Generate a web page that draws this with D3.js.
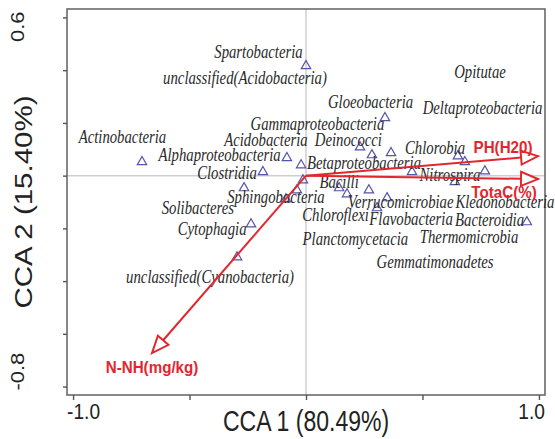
<!DOCTYPE html>
<html>
<head>
<meta charset="utf-8">
<script src="https://cdn.jsdelivr.net/npm/d3@7"></script>
<style>
  body { margin: 0; background: #fff; }
  svg { display: block; }
</style>
</head>
<body>
<div id="chart"></div>
<script>
// species scores (triangles)
const speciesPoints = [
  [0.000, 0.416], [0.339, 0.219], [-0.704, 0.052], [-0.082, 0.067], [-0.021, 0.040],
  [-0.185, 0.014], [-0.266, -0.047], [-0.013, -0.017], [-0.039, -0.055], [-0.086, -0.089],
  [-0.236, -0.184], [-0.296, -0.309], [0.232, 0.108], [0.283, 0.078], [0.365, 0.086],
  [0.142, -0.047], [0.176, -0.070], [0.270, -0.055], [0.348, -0.085], [0.305, -0.123],
  [0.455, 0.014], [0.652, 0.074], [0.682, 0.052], [0.768, 0.017], [0.639, -0.024],
  [0.948, -0.176]
];

// species names and where each name sits (centre, in CCA units)
const speciesLabels = [
  'Spartobacteria', 'unclassified(Acidobacteria)', 'Opitutae', 'Gloeobacteria',
  'Deltaproteobacteria', 'Gammaproteobacteria', 'Actinobacteria', 'Acidobacteria',
  'Deinococci', 'Alphaproteobacteria', 'Chlorobia', 'Betaproteobacteria', 'Clostridia',
  'Nitrospira', 'Bacilli', 'Sphingobacteria', 'Solibacteres', 'Verrucomicrobiae',
  'Kledonobacteria', 'Chloroflexi', 'Flavobacteria', 'Bacteroidia', 'Cytophagia',
  'Planctomycetacia', 'Thermomicrobia', 'Gemmatimonadetes', 'unclassified(Cyanobacteria)'
];
const labelPositions = [
  [-0.204, 0.469], [-0.262, 0.370], [0.747, 0.393], [0.277, 0.279],
  [0.758, 0.256], [0.049, 0.196], [-0.788, 0.146], [-0.172, 0.135],
  [0.182, 0.135], [-0.371, 0.078], [0.554, 0.105], [0.249, 0.048], [-0.339, 0.010],
  [0.618, 0.002], [0.142, -0.024], [-0.129, -0.081], [-0.464, -0.123], [0.406, -0.100],
  [0.854, -0.100], [0.127, -0.149], [0.451, -0.165], [0.788, -0.168], [-0.403, -0.202],
  [0.212, -0.241], [0.700, -0.233], [0.554, -0.328], [-0.412, -0.385]
];

// environmental vectors
const envNames = ['PH(H20)', 'TotaC(%)', 'N-NH(mg/kg)'];
const envVectors = [[0.996, 0.074], [0.996, -0.013], [-0.661, -0.673]];

const xTicks = [-1, -0.5, 0, 0.5, 1];
const yTicks = [0.6, 0.4, 0.2, 0, -0.2, -0.4, -0.6, -0.8];
const xTitle = 'CCA 1 (80.49%)';
const yTitle = 'CCA 2 (15.40%)';

const W = 555, H = 439;
const frame = { left: 67, right: 545, top: 9, bottom: 395 };
const red = '#e3262e';
const triColor = '#5454a8';

const svg = d3.select('#chart').append('svg')
  .attr('width', W)
  .attr('height', H);

const x = d3.scaleLinear().domain([-1.026, 1.026]).range([frame.left, frame.right]);
const y = d3.scaleLinear().domain([-0.832, 0.632]).range([frame.bottom, frame.top]);

// the figure is squeezed sideways, so text gets a horizontal scale (sx)
const addText = (g, str, px, py, o) => {
  const t = g.append('text')
    .attr('transform', `translate(${px},${py}) scale(${o.sx},1)` + (o.rotate ? ' rotate(-90)' : ''))
    .attr('text-anchor', o.anchor || 'middle')
    .attr('dy', o.dy != null ? o.dy : '0.35em')
    .style('font-family', o.family)
    .style('font-size', o.size + 'px')
    .style('fill', o.color)
    .text(str);
  if (o.italic) t.style('font-style', 'italic');
  if (o.bold) t.style('font-weight', 'bold');
  return t;
};

// gridlines through the origin
svg.append('line')
  .attr('x1', x(0)).attr('x2', x(0))
  .attr('y1', frame.top).attr('y2', frame.bottom)
  .attr('stroke', '#cfcfcf').attr('stroke-width', 1.5);
svg.append('line')
  .attr('x1', frame.left).attr('x2', frame.right)
  .attr('y1', y(0)).attr('y2', y(0))
  .attr('stroke', '#cfcfcf').attr('stroke-width', 1.5);

// frame
svg.append('rect')
  .attr('x', frame.left).attr('y', frame.top)
  .attr('width', frame.right - frame.left)
  .attr('height', frame.bottom - frame.top)
  .attr('fill', 'none')
  .attr('stroke', '#6a6a6a')
  .attr('stroke-width', 1.6);

// ticks
const xAxis = svg.append('g')
  .attr('transform', 'translate(0,' + frame.bottom + ')')
  .call(d3.axisBottom(x).tickValues(xTicks).tickSize(5).tickFormat(''));
const yAxis = svg.append('g')
  .attr('transform', 'translate(' + frame.left + ',0)')
  .call(d3.axisLeft(y).tickValues(yTicks).tickSize(4).tickFormat(''));
[xAxis, yAxis].forEach(a => {
  a.select('.domain').remove();
  a.selectAll('line').attr('stroke', '#555').attr('stroke-width', 1.4);
});

// end tick labels, tucked inside the frame ends like the original
const tickFont = { family: 'Liberation Sans, Arial, sans-serif', size: 22, sx: 0.87, color: '#222' };
addText(svg, '-1.0', x(xTicks[0]) - 6, 419, { ...tickFont, anchor: 'start', dy: 0 });
addText(svg, '1.0', x(xTicks[xTicks.length - 1]) + 6, 419, { ...tickFont, anchor: 'end', dy: 0 });
addText(svg, '0.6', 17, y(yTicks[0]) - 6, { ...tickFont, anchor: 'end', rotate: true });
addText(svg, '-0.8', 17, y(yTicks[yTicks.length - 1]) + 4, { ...tickFont, anchor: 'start', rotate: true });

// axis titles
const titleFont = { family: 'Liberation Sans, Arial, sans-serif', size: 29.5, sx: 0.78, color: '#222' };
addText(svg, xTitle, (frame.left + frame.right) / 2, 431, { ...titleFont, dy: 0 });
addText(svg, yTitle, 24, (frame.top + frame.bottom) / 2, { ...titleFont, rotate: true });

// species triangles
const tri = d3.symbol().type(d3.symbolTriangle).size(38);
svg.append('g').selectAll('path')
  .data(speciesPoints)
  .enter().append('path')
  .attr('d', tri)
  .attr('transform', d => `translate(${x(d[0])},${y(d[1])})`)
  .attr('fill', 'none')
  .attr('stroke', triColor)
  .attr('stroke-width', 1.2);

// species names
const nameLayer = svg.append('g');
speciesLabels.forEach((name, i) => {
  const p = labelPositions[i];
  addText(nameLayer, name, x(p[0]), y(p[1]), {
    family: 'Liberation Serif, Times New Roman, serif', size: 18, sx: 0.82,
    color: '#2a2a2a', italic: true
  });
});

// environmental arrows
const headLen = 17, headHalf = 7;
const envLabelShift = [[-35, -9], [-34, 13], [0, 14]];
const arrows = svg.append('g');
envVectors.forEach((v, i) => {
  const x0 = x(0), y0 = y(0);
  const tx = x(v[0]), ty = y(v[1]);
  const len = Math.hypot(tx - x0, ty - y0);
  const ux = (tx - x0) / len, uy = (ty - y0) / len;
  const bx = tx - ux * headLen, by = ty - uy * headLen;
  arrows.append('line')
    .attr('x1', x0).attr('y1', y0)
    .attr('x2', bx).attr('y2', by)
    .attr('stroke', red).attr('stroke-width', 2);
  arrows.append('path')
    .attr('d', d3.line()([
      [tx, ty],
      [bx - uy * headHalf, by + ux * headHalf],
      [bx + uy * headHalf, by - ux * headHalf]
    ]) + 'Z')
    .attr('fill', '#fff')
    .attr('stroke', red)
    .attr('stroke-width', 2)
    .attr('stroke-linejoin', 'miter');
  addText(arrows, envNames[i], tx + envLabelShift[i][0], ty + envLabelShift[i][1], {
    family: 'Liberation Sans, Arial, sans-serif', size: 16.5, sx: 0.92,
    color: red, bold: true
  });
});
</script>
</body>
</html>
